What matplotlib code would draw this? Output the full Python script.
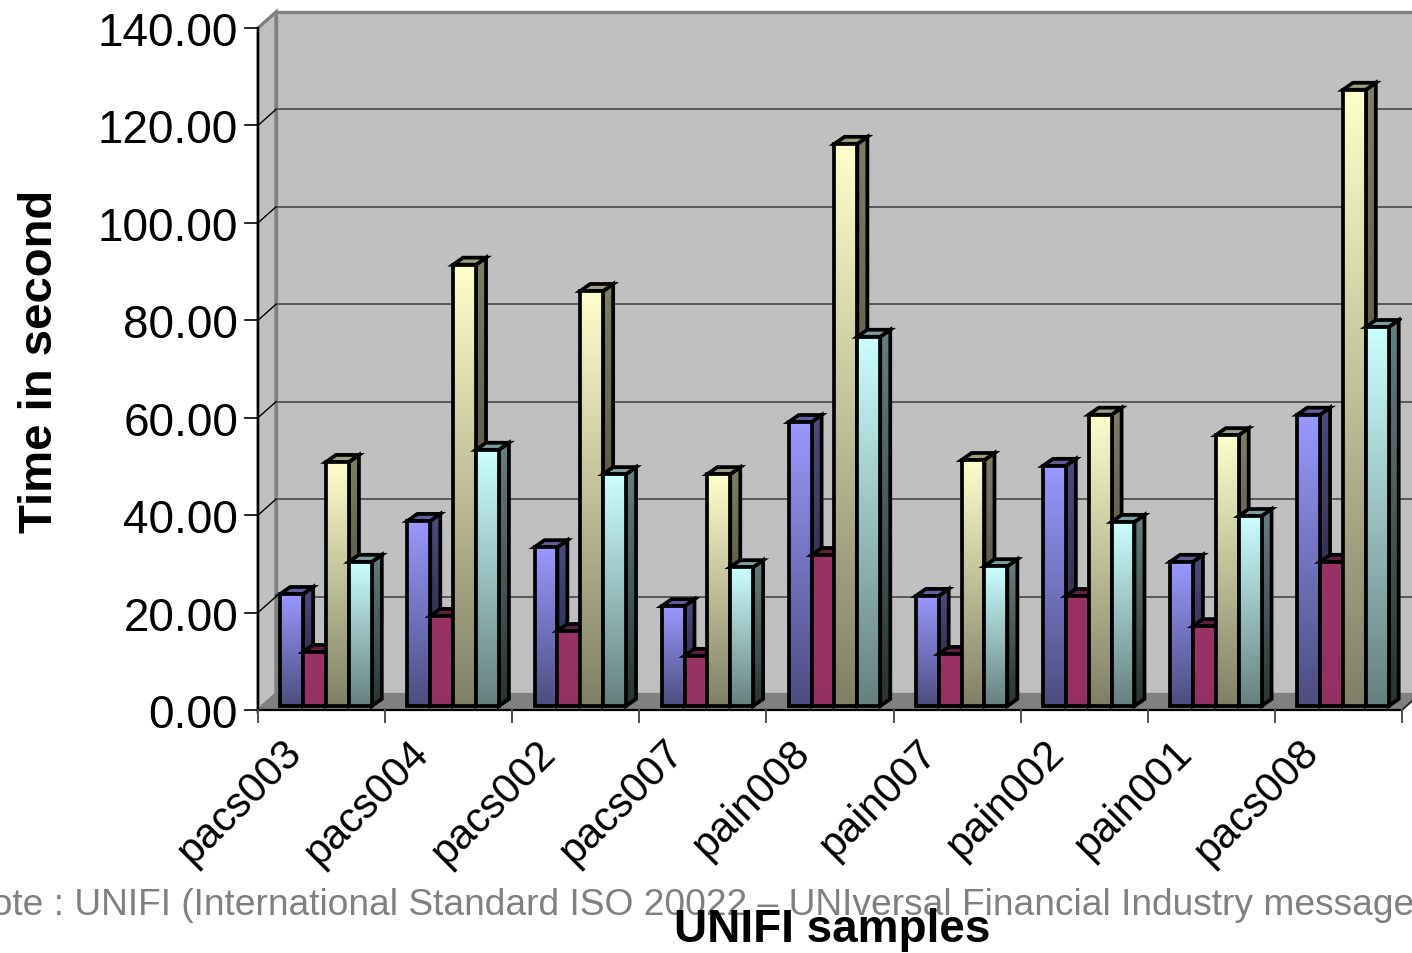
import numpy as np
import matplotlib
matplotlib.use('Agg')
import matplotlib.pyplot as plt
from matplotlib.patches import Polygon, Rectangle
from matplotlib.colors import LinearSegmentedColormap, to_rgb
from matplotlib.transforms import Bbox

plt.rcParams['font.family'] = ['Liberation Sans', 'DejaVu Sans']

# Processing time per UNIFI sample, four runs each
categories = ['pacs003', 'pacs004', 'pacs002', 'pacs007', 'pain008',
              'pain007', 'pain002', 'pain001', 'pacs008']
run1_times = [23.0, 38.0, 32.6, 20.5, 58.3, 22.6, 49.3, 29.6, 59.8]
run2_times = [11.1, 18.5, 15.4, 10.3, 31.0, 10.7, 22.6, 16.4, 29.6]
run3_times = [50.1, 90.6, 85.2, 47.6, 115.4, 50.5, 59.8, 55.6, 126.5]
run4_times = [29.6, 52.6, 47.6, 28.5, 75.8, 28.7, 37.8, 39.0, 77.8]
series_colors = ['#9999ff', '#993366', '#ffffcc', '#ccffff']
yticks = [0, 20, 40, 60, 80, 100, 120, 140]

W, H, DPI = 1412, 954, 100
fig = plt.figure(figsize=(W / DPI, H / DPI), dpi=DPI)

# front plane of the 3-D box, in pixels from the top-left corner
left_px, right_px, base_px, top_px = 258, 1402, 711, 29
ax = fig.add_axes([left_px / W, (H - base_px) / H,
                   (right_px - left_px) / W, (base_px - top_px) / H])
ncat = len(categories)
ymax = yticks[-1]
ax.axis('off')

# pixel -> data conversions for the fake depth
sx = (right_px - left_px) / ncat
sy = (base_px - top_px) / ymax
def dx(p):
    return p / sx
def dy(p):
    return p / sy

wx, wy = dx(18), dy(16)       # depth of the walls
bx, by = dx(4.5), dy(4)       # bars sit slightly behind the front plane
ddx, ddy = dx(10), dy(7)      # depth of each bar
bar_w = 0.18
edge_lw = 2.7

# walls and floor
ax.add_patch(Rectangle((wx, wy), ncat, ymax, fc='#c0c0c0', ec='#808080',
                       lw=2.4, clip_on=False, zorder=1))
ax.add_patch(Polygon([(0, 0), (wx, wy), (wx, ymax + wy), (0, ymax)],
                     fc='#c0c0c0', ec='#808080', lw=2.4, clip_on=False, zorder=1))
ax.add_patch(Polygon([(0, 0), (ncat, 0), (ncat + wx, wy), (wx, wy)],
                     fc='#808080', ec='#808080', lw=1, clip_on=False, zorder=1.5))
ax.plot([0, wx], [0, wy], color='#808080', lw=1.5, zorder=1.6, clip_on=False)
ax.plot([ncat, ncat + wx], [0, wy], color='#202020', lw=1.2, zorder=1.6, clip_on=False)

# gridlines on the back and side walls
for v in yticks[1:-1]:
    ax.plot([wx, ncat + wx], [v + wy, v + wy], color='#5a5a5a', lw=1.4,
            zorder=2, clip_on=False)
    ax.plot([0, wx], [v, v + wy], color='black', lw=1, zorder=2, clip_on=False)

# axes lines and ticks
ax.plot([0, 0], [0, ymax], color='black', lw=1.6, zorder=3, clip_on=False)
ax.plot([0, ncat], [0, 0], color='black', lw=1.6, zorder=3, clip_on=False)
for v in yticks:
    ax.plot([-dx(13), 0], [v, v], color='black', lw=1.2, zorder=3, clip_on=False)
    ax.text(-dx(20), v, f'{v:.2f}', ha='right', va='center_baseline',
            fontsize=33, clip_on=False)
for i in range(ncat + 1):
    ax.plot([i, i], [0, -dy(12)], color='#505050', lw=1.4, zorder=3, clip_on=False)
for i, name in enumerate(categories):
    ax.annotate(name, xy=(i + 0.5, 0), xytext=(-40 * 0.72, -22 * 0.72),
                textcoords='offset points', rotation=45, rotation_mode='anchor',
                ha='right', va='top', fontsize=30, annotation_clip=False)

grad = np.linspace(0, 1, 256).reshape(-1, 1)


def shade(color, f):
    return tuple(c * f for c in to_rgb(color))


def draw_bar(x0, val, color, z, solid=False):
    x1 = x0 + bar_w
    y0, y1 = by, val + by
    # side face
    side = Polygon([(x1, y0), (x1 + ddx, y0 + ddy), (x1 + ddx, y1 + ddy), (x1, y1)],
                   fc='none', ec='black', lw=edge_lw, zorder=z + 0.2, joinstyle='miter')
    ax.add_patch(side)
    cm_side = LinearSegmentedColormap.from_list('s', [shade(color, 0.2), shade(color, 0.5)])
    im = ax.imshow(grad, extent=(x1, x1 + ddx, y0, y1 + ddy), origin='lower',
                   cmap=cm_side, aspect='auto', zorder=z, interpolation='bilinear')
    im.set_clip_path(side)
    # top face
    ax.add_patch(Polygon([(x0, y1), (x1, y1), (x1 + ddx, y1 + ddy), (x0 + ddx, y1 + ddy)],
                         fc=shade(color, 0.62), ec='black', lw=edge_lw, zorder=z + 0.3,
                         joinstyle='miter'))
    # front face
    lo = 0.97 if solid else 0.5
    cm_front = LinearSegmentedColormap.from_list('f', [shade(color, lo), to_rgb(color)])
    ax.imshow(grad, extent=(x0, x1, y0, y1), origin='lower', cmap=cm_front,
              aspect='auto', zorder=z + 1, interpolation='bilinear')
    ax.add_patch(Rectangle((x0, y0), bar_w, val, fc='none', ec='black', lw=edge_lw,
                           zorder=z + 1.2, joinstyle='miter'))


all_runs = [run1_times, run2_times, run3_times, run4_times]
for i in range(ncat):
    for k, (run, color) in enumerate(zip(all_runs, series_colors)):
        x0 = i + 0.5 - 2 * bar_w + k * bar_w + bx
        draw_bar(x0, run[i], color, 10 + i * 10 + k * 2, solid=(k == 1))

ax.set_xlim(0, ncat)
ax.set_ylim(0, ymax)

# axis titles and footnote
ylab = fig.text(52 / W, (H - 533) / H, 'Time in seconds', rotation=90,
                rotation_mode='anchor', ha='left', va='baseline',
                fontsize=34, fontweight='bold')
ylab.set_clip_box(Bbox([[0, 0], [W, H - 195]]))
ylab.set_clip_on(True)

fig.text(-35 / W, (H - 915) / H,
         'Note : UNIFI (International Standard ISO 20022 \u2013 UNIversal Financial '
         'Industry message scheme)',
         color='#808080', fontsize=26.7, ha='left', va='baseline', zorder=2)
fig.text(832 / W, (H - 942) / H, 'UNIFI samples', ha='center', va='baseline',
         fontsize=33, fontweight='bold', zorder=4)

fig.savefig('out.png', dpi=DPI)
